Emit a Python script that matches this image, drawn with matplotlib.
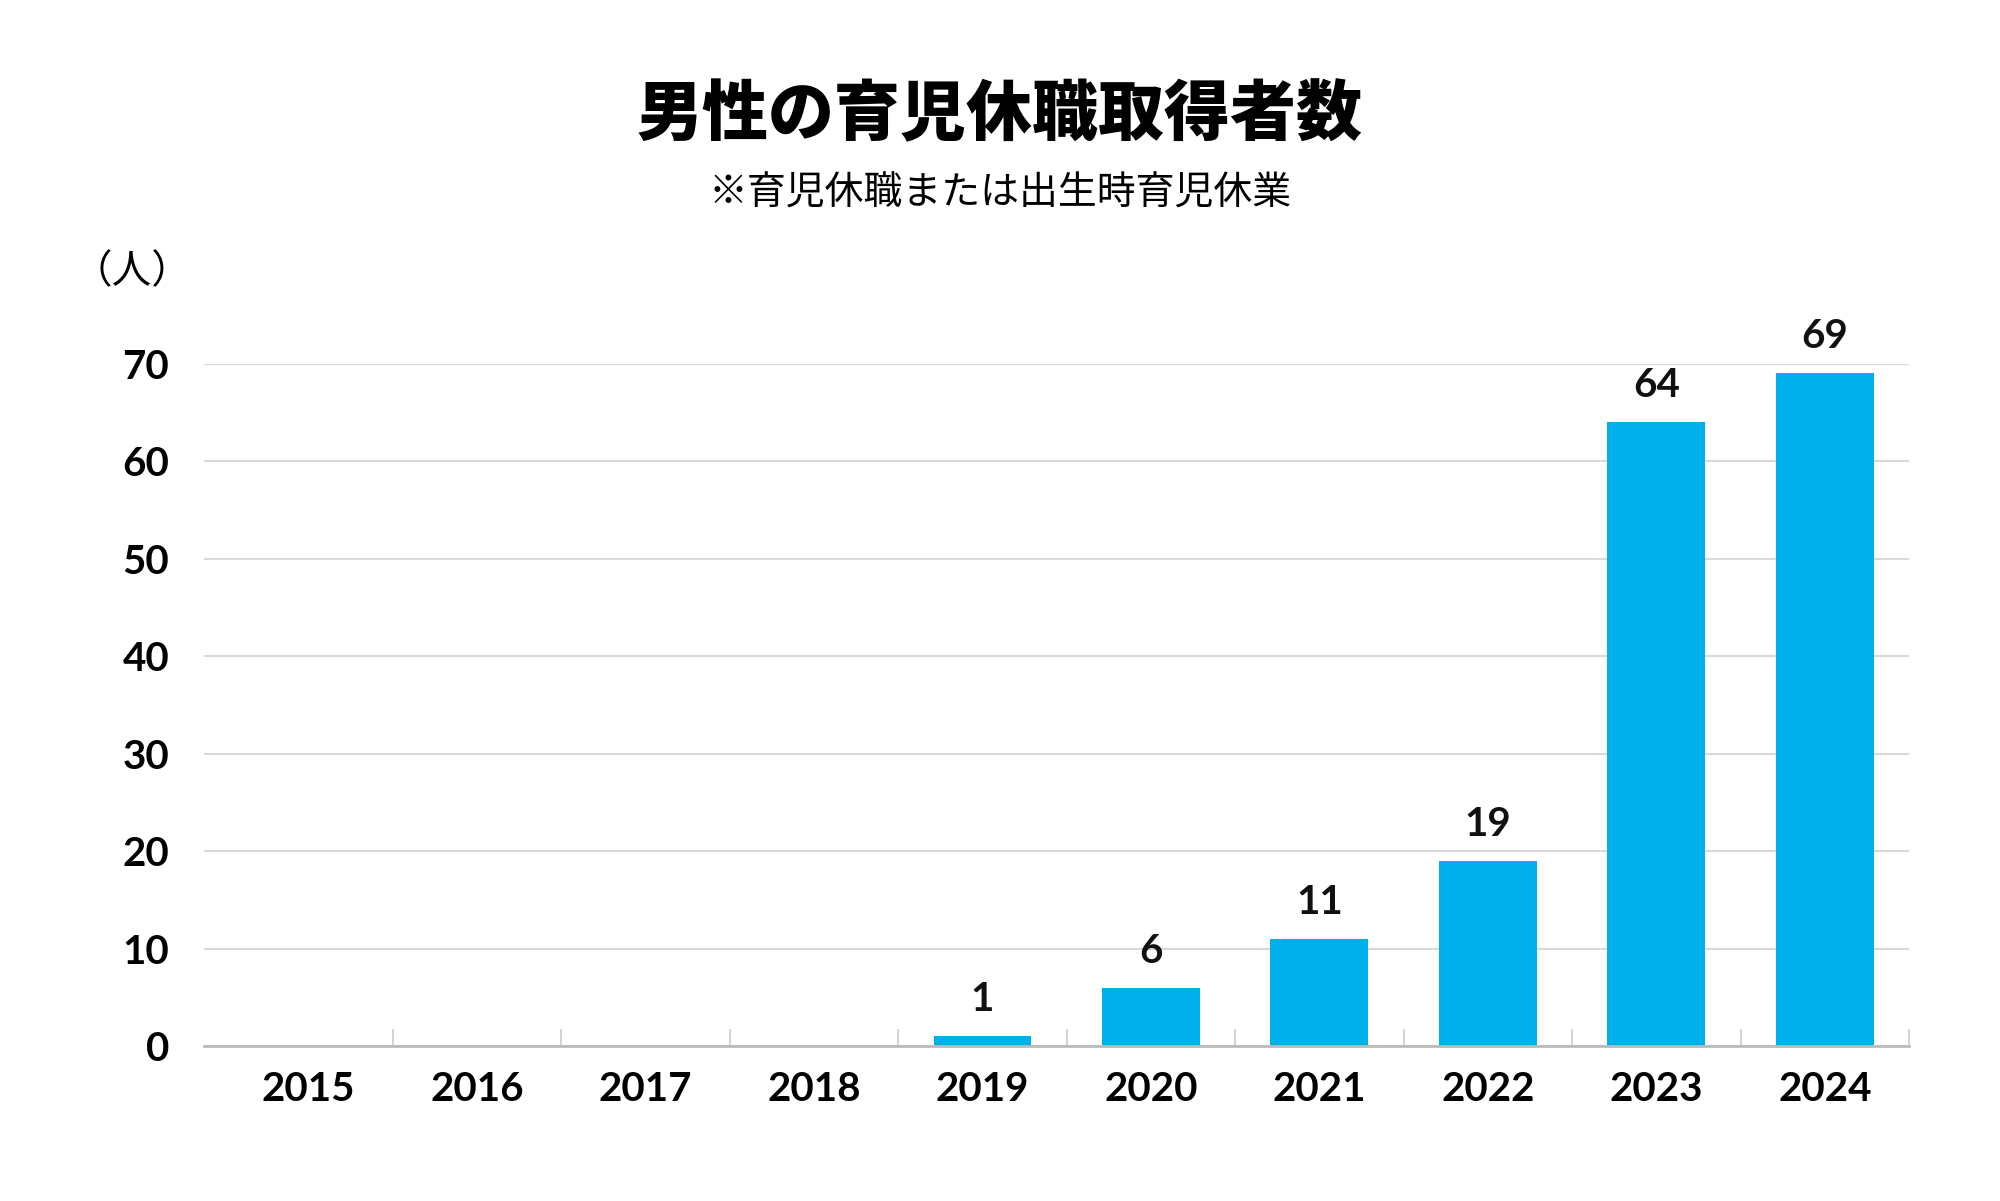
import matplotlib
matplotlib.use("Agg")
import matplotlib.pyplot as plt
import numpy as np

years = ["2015", "2016", "2017", "2018", "2019", "2020", "2021", "2022", "2023", "2024"]
values = [0, 0, 0, 0, 1, 6, 11, 19, 64, 69]
yticks = [0, 10, 20, 30, 40, 50, 60, 70]
title = "男性の育児休職取得者数"
subtitle = "※育児休職または出生時育児休業"
unit = "（人）"

JP = ["Noto Sans CJK JP", "DejaVu Sans"]
NUM = ["Lato", "DejaVu Sans"]
BAR = "#00B0EA"

fig = plt.figure(figsize=(20, 12.01), dpi=100)
ax = fig.add_axes([0.102, 0.129, 0.8525, 0.5683])

x = np.arange(len(years))
ax.bar(x, values, width=0.58, color=BAR, zorder=3)

for xi, v in zip(x, values):
    if v > 0:
        ax.annotate(str(v), (xi, v), xytext=(0, 13), textcoords="offset points",
                    ha="center", va="bottom", fontsize=29, fontweight="bold",
                    family=NUM, color="#111111", annotation_clip=False)

ax.set_xlim(-0.62, len(years) - 0.5)
ax.set_ylim(0, 70)
ax.set_yticks(yticks)
ax.set_yticklabels([str(t) for t in yticks], fontsize=29, fontweight="bold", family=NUM)
ax.set_xticks(x)
ax.set_xticklabels(years, fontsize=29, fontweight="bold", family=NUM)
ax.tick_params(axis="y", length=0, pad=25)
ax.tick_params(axis="x", which="major", length=0, pad=18)
ax.set_xticks(np.arange(0.5, len(years), 1.0), minor=True)
ax.tick_params(axis="x", which="minor", direction="in", length=12, width=1.2, color="#cccccc")

ax.grid(axis="y", color="#d9d9d9", linewidth=1.5, zorder=0)
for s in ["left", "right", "top"]:
    ax.spines[s].set_visible(False)
ax.spines["bottom"].set_color("#bbbbbb")
ax.spines["bottom"].set_linewidth(2)
ax.spines["bottom"].set_zorder(4)

fig.text(0.5, 0.904, title, ha="center", va="center", fontsize=47.5,
         fontweight=900, family=JP)
fig.text(0.5, 0.8385, subtitle, ha="center", va="center", fontsize=28, family=JP)
fig.text(0.066, 0.773, unit, ha="center", va="center", fontsize=28.5, family=JP)

fig.savefig("out.png", dpi=100, facecolor="white")
